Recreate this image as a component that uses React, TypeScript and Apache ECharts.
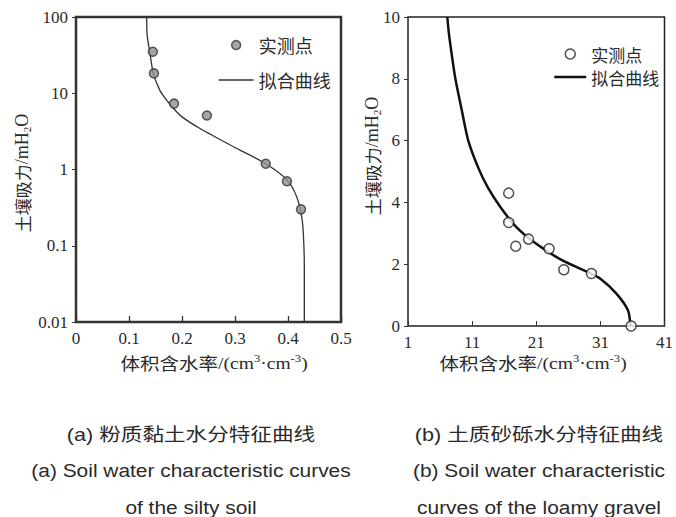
import React, { useEffect, useRef } from "react";
import * as echarts from "echarts";

// ---- Chart (a): silty soil ----
const aMeasuredX = [0.145, 0.147, 0.185, 0.247, 0.358, 0.398, 0.4245];
const aMeasuredY = [35, 18.2, 7.3, 5.1, 1.19, 0.7, 0.3];
const aFitX = [0.1334, 0.134, 0.1396, 0.1459, 0.158, 0.171, 0.184, 0.2, 0.234, 0.297, 0.358, 0.398, 0.4164, 0.4258, 0.4289, 0.4308, 0.4308];
const aFitY = [100, 60, 33, 18.2, 11, 8.1, 6.3, 4.9, 3.45, 1.99, 1.19, 0.73, 0.44, 0.24, 0.146, 0.054, 0.01];
const aXTicks = [0, 0.1, 0.2, 0.3, 0.4, 0.5];
const aYTicks = ["0.01", "0.1", "1", "10", "100"];

// ---- Chart (b): loamy gravel ----
const bMeasuredX = [16.7, 16.7, 17.8, 19.8, 23.0, 25.3, 29.6, 35.8];
const bMeasuredY = [4.3, 3.35, 2.58, 2.81, 2.5, 1.82, 1.7, 0];
const bFitX = [7.13, 7.38, 7.88, 8.39, 9.39, 10.4, 11.9, 13.4, 15.4, 17.9, 20.95, 25.0, 29.0, 31.0, 33.5, 35.3, 35.7];
const bFitY = [10, 9.46, 8.7, 8.0, 6.98, 6.0, 5.15, 4.5, 3.85, 3.2, 2.67, 2.13, 1.75, 1.53, 1.05, 0.51, 0];
const bXTicks = [1, 11, 21, 31, 41];
const bYTicks = [0, 2, 4, 6, 8, 10];

const legendNames = ["实测点", "拟合曲线"];
const captionA = ["(a) 粉质黏土水分特征曲线", "(a) Soil water characteristic curves", "of the silty soil"];
const captionB = ["(b) 土质砂砾水分特征曲线", "(b) Soil water characteristic", "curves of the loamy gravel"];

const SERIF = "Liberation Serif";
const CJK = "Noto Sans CJK SC";
const SANS = "Liberation Sans";
const INK = "#2a2a2a";

const zip = (xs: number[], ys: number[]) => xs.map((x, i) => [x, ys[i]]);

const yTitleRich = {
  text: `{c|土壤吸力}{a|/mH}{b|2}{a|O}`,
  rich: {
    c: { fontSize: 17, lineHeight: 20, fontFamily: CJK, fill: INK },
    a: { fontSize: 18, lineHeight: 20, fontFamily: SERIF, fill: INK },
    b: { fontSize: 11, lineHeight: 10, verticalAlign: "bottom", fontFamily: SERIF, fill: INK },
  },
};
const xTitleRich = {
  text: `{c|体积含水率}{a|/(cm}{s|3}{a|·cm}{s|-3}{a|)}`,
  rich: {
    c: { fontSize: 17, lineHeight: 20, fontFamily: CJK, fill: INK },
    a: { fontSize: 17, lineHeight: 20, fontFamily: SERIF, fill: INK },
    s: { fontSize: 11, lineHeight: 10, verticalAlign: "top", fontFamily: SERIF, fill: INK },
  },
};

export default function App() {
  const ref = useRef<HTMLDivElement>(null);
  useEffect(() => {
    if (!ref.current) return;
    const chart = echarts.init(ref.current, undefined, { renderer: "svg" });
    const tickLabel = { fontFamily: SERIF, fontSize: 17, color: INK, margin: 8 };
    const option: any = {
      animation: false,
      backgroundColor: "#fff",
      grid: [
        { left: 76, top: 17, width: 265, height: 305, show: true, borderColor: "#333", borderWidth: 2.5, backgroundColor: "transparent" },
        { left: 408, top: 17, width: 265, height: 309, show: true, borderColor: "#222", borderWidth: 1.5, backgroundColor: "transparent" },
      ],
      xAxis: [
        {
          gridIndex: 0, type: "value", min: aXTicks[0], max: aXTicks[aXTicks.length - 1], interval: 0.1,
          axisLine: { show: false }, splitLine: { show: false },
          axisTick: { inside: true, length: 6, lineStyle: { color: "#333", width: 1.3 } },
          axisLabel: { ...tickLabel, formatter: (v: number) => String(+v.toFixed(1)) },
        },
        {
          gridIndex: 1, type: "value", min: bXTicks[0], max: bXTicks[bXTicks.length - 1], interval: 10,
          axisLine: { show: false }, splitLine: { show: false },
          axisTick: { inside: true, length: 5, lineStyle: { color: "#333", width: 1 } },
          axisLabel: { ...tickLabel },
        },
      ],
      yAxis: [
        {
          gridIndex: 0, type: "log", logBase: 10, min: Number(aYTicks[0]), max: Number(aYTicks[aYTicks.length - 1]),
          axisLine: { show: false }, splitLine: { show: false }, minorTick: { show: false },
          axisTick: { inside: false, length: 4, lineStyle: { color: "#333", width: 1 } },
          axisLabel: {
            ...tickLabel,
            formatter: (v: number) => {
              const e = Math.round(Math.log10(v));
              return aYTicks[e + 2] ?? String(v);
            },
          },
        },
        {
          gridIndex: 1, type: "value", min: bYTicks[0], max: bYTicks[bYTicks.length - 1], interval: 2,
          axisLine: { show: false }, splitLine: { show: false },
          axisTick: { inside: false, length: 4, lineStyle: { color: "#333", width: 1 } },
          axisLabel: { ...tickLabel },
        },
      ],
      legend: [
        {
          left: 218, top: 35, padding: 0, orient: "vertical", itemGap: 15, itemWidth: 35, itemHeight: 9,
          textStyle: { fontFamily: CJK, fontSize: 18, color: INK, lineHeight: 20 },
          selectedMode: false,
          data: [
            { name: legendNames[0], icon: "circle", itemStyle: { color: "#8e8e8e", borderColor: "#333", borderWidth: 1.5 } },
            { name: legendNames[1], itemStyle: { opacity: 0 }, lineStyle: { color: "#333", width: 1.3 } },
          ],
        },
        {
          left: 553, top: 45, padding: 0, orient: "vertical", itemGap: 5, itemWidth: 32, itemHeight: 10,
          textStyle: { fontFamily: CJK, fontSize: 17, color: INK, lineHeight: 18 },
          selectedMode: false,
          data: [
            { name: legendNames[0], icon: "circle", itemStyle: { color: "#fff", borderColor: "#222", borderWidth: 1.5 } },
            { name: legendNames[1], itemStyle: { opacity: 0 }, lineStyle: { color: "#111", width: 2.5 } },
          ],
        },
      ],
      series: [
        {
          name: legendNames[1], type: "line", xAxisIndex: 0, yAxisIndex: 0, data: zip(aFitX, aFitY),
          symbol: "none", smooth: 0.25, lineStyle: { color: "#333", width: 1.3 }, z: 2,
        },
        {
          name: legendNames[0], type: "scatter", xAxisIndex: 0, yAxisIndex: 0, data: zip(aMeasuredX, aMeasuredY),
          symbol: "circle", symbolSize: 9, itemStyle: { color: "#8e8e8e", borderColor: "#333", borderWidth: 1.5 }, z: 3,
        },
        {
          name: legendNames[1], type: "line", xAxisIndex: 1, yAxisIndex: 1, data: zip(bFitX, bFitY),
          symbol: "none", smooth: 0.25, lineStyle: { color: "#111", width: 2.5 }, z: 2,
        },
        {
          name: legendNames[0], type: "scatter", xAxisIndex: 1, yAxisIndex: 1, data: zip(bMeasuredX, bMeasuredY),
          symbol: "circle", symbolSize: 10, clip: false, itemStyle: { color: "#fff", borderColor: "#222", borderWidth: 1.5 }, z: 3,
        },
      ],
      graphic: [
        { type: "text", x: 22, y: 173, rotation: Math.PI / 2, style: { ...yTitleRich, textAlign: "center", textVerticalAlign: "middle" } },
        { type: "text", x: 372, y: 156, rotation: Math.PI / 2, style: { ...yTitleRich, textAlign: "center", textVerticalAlign: "middle" } },
        { type: "text", x: 214, y: 363, scaleX: 1.15, style: { ...xTitleRich, textAlign: "center", textVerticalAlign: "middle" } },
        { type: "text", x: 533, y: 363, scaleX: 1.15, style: { ...xTitleRich, textAlign: "center", textVerticalAlign: "middle" } },
        ...[captionA, captionB].flatMap((cap, ci) => {
          const cx = ci === 0 ? 191 : 539;
          return cap.map((t, li) => ({
            type: "text", x: cx, y: [435, 470, 507][li], scaleX: li === 0 ? 1.2 : 1.1,
            style: {
              text: t, textAlign: "center", textVerticalAlign: "middle",
              fontFamily: li === 0 ? `${SANS}, ${CJK}` : SANS, fontSize: li === 0 ? 18 : 19, fill: INK,
            },
          }));
        }),
      ],
    };
    chart.setOption(option);
    return () => chart.dispose();
  }, []);
  return <div ref={ref} style={{ position: "fixed", left: 0, top: 0, width: 676, height: 517 }} />;
}
